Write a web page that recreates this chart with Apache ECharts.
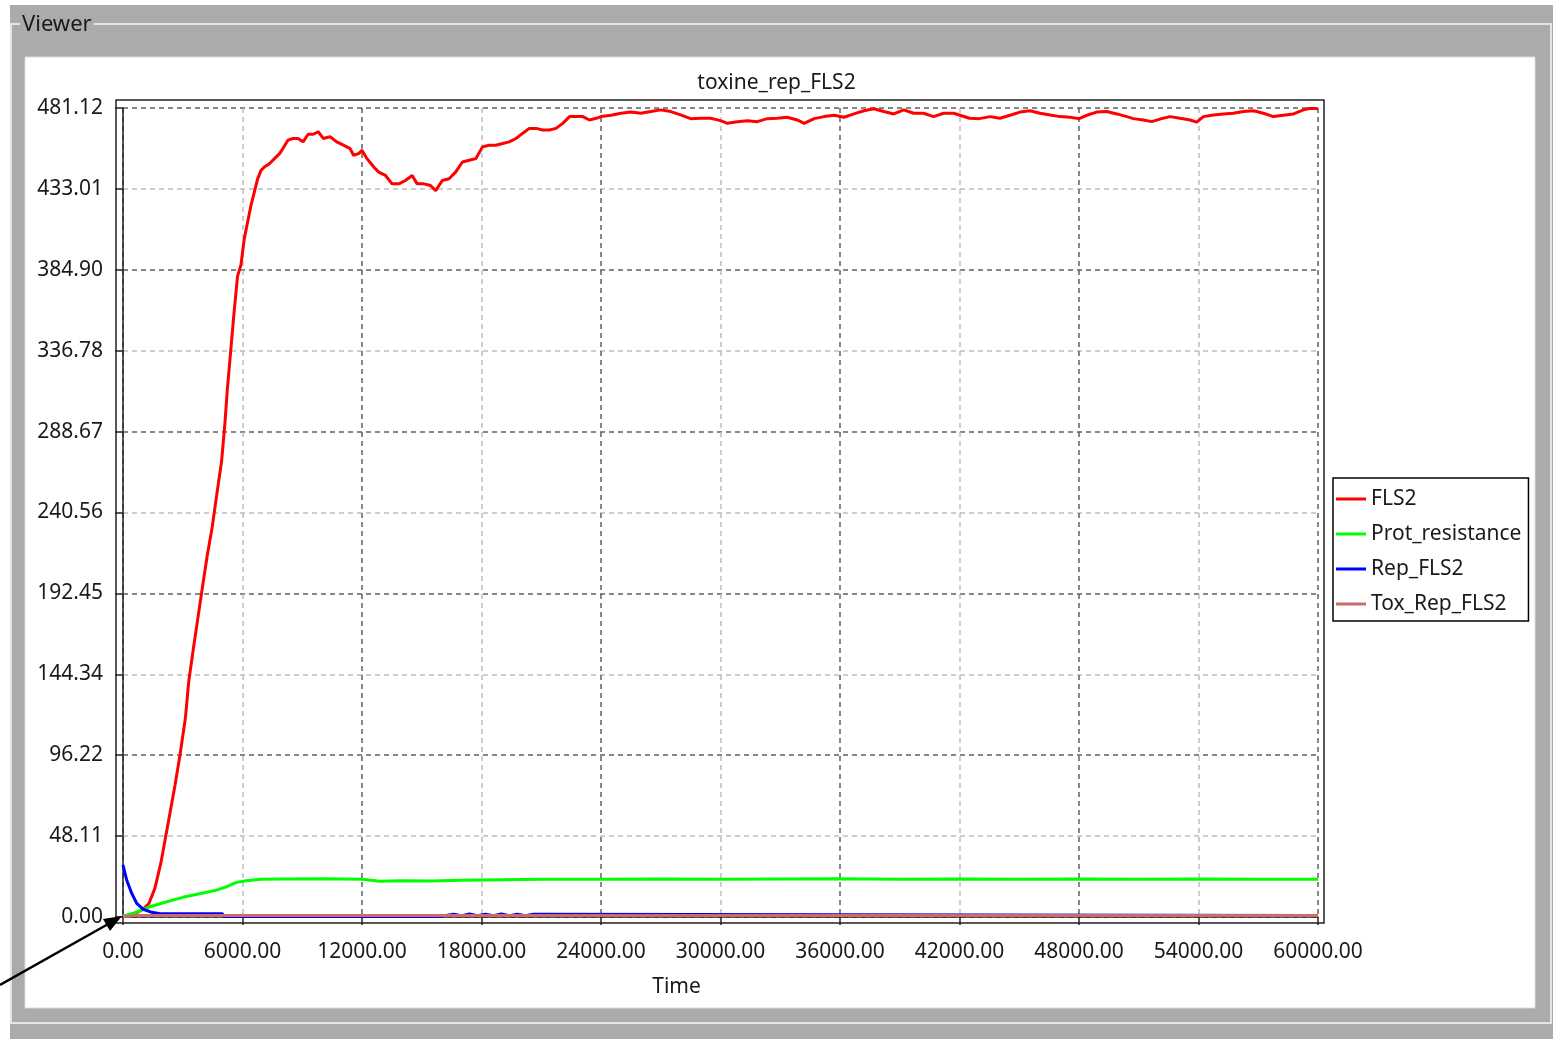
<!DOCTYPE html>
<html>
<head>
<meta charset="utf-8">
<title>toxine_rep_FLS2</title>
<script src="https://cdn.jsdelivr.net/npm/echarts@6/dist/echarts.min.js"></script>
<style>
  html, body { margin: 0; padding: 0; background: #fff; }
  #chart { width: 1553px; height: 1039px; }
</style>
</head>
<body>
<div id="chart"></div>
<script>
// tick labels as shown on the axes
var timeTicks = ['0.00', '6000.00', '12000.00', '18000.00', '24000.00', '30000.00',
  '36000.00', '42000.00', '48000.00', '54000.00', '60000.00']
var valueTicks = ['0.00', '48.11', '96.22', '144.34', '192.45', '240.56',
  '288.67', '336.78', '384.90', '433.01', '481.12']

var seriesNames = ['FLS2', 'Prot_resistance', 'Rep_FLS2', 'Tox_Rep_FLS2']

// FLS2
var fls2T = [0, 500, 1000, 1300, 1600, 1900, 2100, 2300, 2620, 2870, 3130, 3300, 3550, 3800, 4000,
  4230, 4480, 4730, 4950, 5120, 5240, 5410, 5580, 5750, 5925, 6084, 6253, 6422, 6591, 6760,
  6930, 7098, 7350, 7605, 7860, 8028, 8280, 8535, 8790, 9040, 9295, 9550, 9800, 10055, 10395,
  10730, 11070, 11400, 11575, 11830, 12000, 12250, 12590, 12840, 13180, 13510, 13850, 14180, 14520, 14770,
  15110, 15440, 15700, 16030, 16370, 16700, 17040, 17380, 17710, 18050, 18380, 18720, 19060, 19390, 19730,
  20060, 20400, 20740, 21070, 21410, 21740, 22080, 22420, 22750, 23090, 23420, 23760, 24000, 24500, 25000,
  25500, 26000, 26500, 27000, 27500, 28000, 28500, 29000, 29500, 30000, 30350, 30850, 31350, 31850, 32350,
  32850, 33350, 33850, 34200, 34700, 35200, 35700, 36200, 36700, 37200, 37700, 38200, 38700, 39200, 39700,
  40200, 40700, 41200, 41700, 42100, 42500, 43000, 43530, 44030, 44540, 45040, 45540, 46040, 46550, 47050,
  47550, 48000, 48390, 48890, 49390, 49900, 50400, 50730, 51230, 51650, 52150, 52570, 53070, 53580, 53910,
  54250, 54750, 55250, 55750, 56260, 56760, 57260, 57760, 58260, 58770, 59270, 59600, 60000]
var fls2V = [0.3, 1.5, 4.5, 8, 17, 32, 45, 58, 79, 97, 118, 140, 161, 181, 197,
  215, 232, 253, 271, 294, 314, 337, 360, 381, 388, 403, 413, 423, 431, 439,
  444, 446, 448, 451, 454, 457, 462, 463, 463, 461, 465.5, 465.5, 467, 463, 464,
  461, 459, 457, 453, 454, 456, 451, 446, 443, 441, 436, 436, 438, 441, 436,
  436, 435, 432, 438, 439, 443, 449, 450, 451, 458, 459, 459, 460, 461, 463,
  466, 469, 469, 468, 468, 469, 472, 476, 476, 476, 474, 475, 476, 476.8, 478,
  478.7, 478, 479, 480, 479, 477, 474.8, 475, 475, 473.6, 472, 473, 473.6, 473, 474.8,
  475, 475.6, 474, 472, 474.8, 476, 476.8, 475.6, 477.6, 479.5, 480.7, 479, 477.6, 480, 478,
  478, 476, 478, 478, 476.5, 475, 474.8, 476, 475, 476.8, 478.7, 479.5, 478, 477, 476,
  475.6, 474.8, 476.8, 478.7, 479, 477.6, 476, 474.8, 474, 473, 474.8, 476, 475, 474, 472.7,
  476, 477, 477.6, 478, 479, 479.5, 478, 476, 476.8, 477.6, 480, 481, 480.7]

// Prot_resistance (green)
var protT = [0, 500, 1350, 2200, 3000, 3900, 4700, 5200, 5700, 6200, 6900, 8000, 10000, 12000, 12900,
  14000, 15500, 17000, 19000, 21000, 24000, 27000, 30000, 33000, 36000, 39000, 42000, 45000, 48000, 51000,
  54000, 57000, 60000]
var protV = [0.5, 2.2, 6.1, 9.1, 11.7, 14, 16, 18, 20.6, 21.6, 22.4, 22.6, 22.8, 22.4, 21.3,
  21.6, 21.4, 21.8, 22.2, 22.4, 22.5, 22.6, 22.4, 22.6, 22.7, 22.5, 22.6, 22.4, 22.6, 22.5,
  22.6, 22.4, 22.5]

// Rep_FLS2 (blue)
var repT = [0, 185, 435, 690, 1020, 1440, 1860, 3000, 5000, 5050, 10000, 15500, 16000, 16600, 17000,
  17400, 17800, 18200, 18600, 19000, 19400, 19800, 20200, 20600, 20700, 60000]
var repV = [30.9, 22, 14.1, 8.1, 4.6, 2.8, 2.0, 1.9, 1.9, 0.3, 0.3, 0.3, 0.4, 1.7, 0.8,
  1.8, 0.8, 1.7, 0.8, 1.8, 0.8, 1.7, 0.8, 1.7, 0.9, 0.9]

// Tox_Rep_FLS2 (rosy)
var toxT = [0, 600, 30000, 60000]
var toxV = [0.3, 0.9, 0.9, 0.9]

var colors = ['#ff0000', '#00ff00', '#0000ff', '#cc6b6b']

function pairs(t, v) {
  return t.map(function(x, i) { return [x, v[i]] })
}

var font = "'Noto Sans', sans-serif"
var txt = '#1a1a1a'

var chart = echarts.init(document.getElementById('chart'), null, { renderer: 'canvas' })

chart.setOption({
  animation: false,
  backgroundColor: '#fff',
  // 标题: 图名 + 外框 "Viewer"
  title: [
    {
      text: 'toxine_rep_FLS2',
      left: 'center',
      top: 71,
      padding: 0,
      textStyle: { fontFamily: font, fontSize: 21, fontWeight: 'normal', color: txt, lineHeight: 24 }
    },
    {
      text: 'Viewer',
      left: 20,
      top: 13,
      padding: [0, 2, 0, 2],
      backgroundColor: '#ababab',
      textStyle: { fontFamily: font, fontSize: 22, fontWeight: 'normal', color: txt, lineHeight: 24 }
    }
  ],
  // window frame around the plot
  graphic: [
    { type: 'rect', z: -20, shape: { x: 10, y: 5, width: 1543, height: 1034 }, style: { fill: '#ababab' } },
    { type: 'rect', z: -19, shape: { x: 11, y: 24, width: 1540, height: 999 }, style: { fill: 'none', stroke: '#e4e4e4', lineWidth: 2 } },
    { type: 'rect', z: -18, shape: { x: 25, y: 57, width: 1510, height: 951 }, style: { fill: '#ffffff', stroke: '#dcdcdc', lineWidth: 1 } },
    { type: 'line', z: 100, shape: { x1: 0, y1: 985, x2: 110, y2: 923 }, style: { stroke: '#000', lineWidth: 2.5 } },
    { type: 'polygon', z: 100, shape: { points: [[122, 916], [103, 919], [110, 931]] }, style: { fill: '#000' } }
  ],
  legend: {
    orient: 'vertical',
    left: 1333,
    top: 478,
    padding: [10, 7, 6, 3],
    itemGap: 13,
    itemWidth: 30,
    itemHeight: 3,
    icon: 'rect',
    borderColor: '#000',
    borderWidth: 1.5,
    borderRadius: 0,
    backgroundColor: '#fff',
    data: seriesNames,
    textStyle: { fontFamily: font, fontSize: 21, color: txt, lineHeight: 22 }
  },
  grid: [
    { left: 123, top: 108, width: 1195, height: 809 },
    // outer box of the plot area
    { left: 116, top: 100, width: 1208, height: 823, show: true, borderColor: '#222', borderWidth: 1.5, backgroundColor: 'transparent' }
  ],
  xAxis: [
    {
      type: 'value',
      gridIndex: 0,
      min: 0,
      max: 60000,
      interval: 6000,
      offset: 6,
      name: 'Time',
      nameLocation: 'middle',
      nameGap: 54,
      nameTextStyle: { fontFamily: font, fontSize: 21, color: txt, padding: [0, 88, 0, 0] },
      axisLine: { show: true, lineStyle: { color: '#222', width: 1.5 } },
      axisTick: { show: true, inside: false, length: 8, lineStyle: { color: '#222', width: 1.5 } },
      axisLabel: {
        margin: 19,
        fontFamily: font,
        fontSize: 21,
        color: txt,
        formatter: function(v, i) { return timeTicks[Math.round(v / 6000)] }
      },
      splitLine: { show: true, lineStyle: { color: ['#606060', '#bdbdbd'], type: [5, 4], width: 1.5 } }
    },
    { type: 'value', gridIndex: 1, show: false, min: 0, max: 1, splitLine: { show: false } }
  ],
  yAxis: [
    {
      type: 'value',
      gridIndex: 0,
      min: 0,
      max: 481.12,
      interval: 48.112,
      offset: 7,
      axisLine: { show: true, lineStyle: { color: '#222', width: 1.5 } },
      axisTick: { show: true, inside: false, length: 8, lineStyle: { color: '#222', width: 1.5 } },
      axisLabel: {
        margin: 13,
        padding: [4, 0, 0, 0],
        fontFamily: font,
        fontSize: 21,
        color: txt,
        formatter: function(v) { return valueTicks[Math.round(v / 48.112)] }
      },
      splitLine: { show: true, lineStyle: { color: ['#606060', '#bdbdbd'], type: [5, 4], width: 1.5 } }
    },
    { type: 'value', gridIndex: 1, show: false, min: 0, max: 1, splitLine: { show: false } }
  ],
  series: [
    { name: seriesNames[0], type: 'line', data: pairs(fls2T, fls2V), symbol: 'none', color: colors[0], lineStyle: { width: 3 } },
    { name: seriesNames[1], type: 'line', data: pairs(protT, protV), symbol: 'none', color: colors[1], lineStyle: { width: 3 } },
    { name: seriesNames[2], type: 'line', data: pairs(repT, repV), symbol: 'none', color: colors[2], lineStyle: { width: 3 } },
    { name: seriesNames[3], type: 'line', data: pairs(toxT, toxV), symbol: 'none', color: colors[3], lineStyle: { width: 3 } }
  ]
})
</script>
</body>
</html>
